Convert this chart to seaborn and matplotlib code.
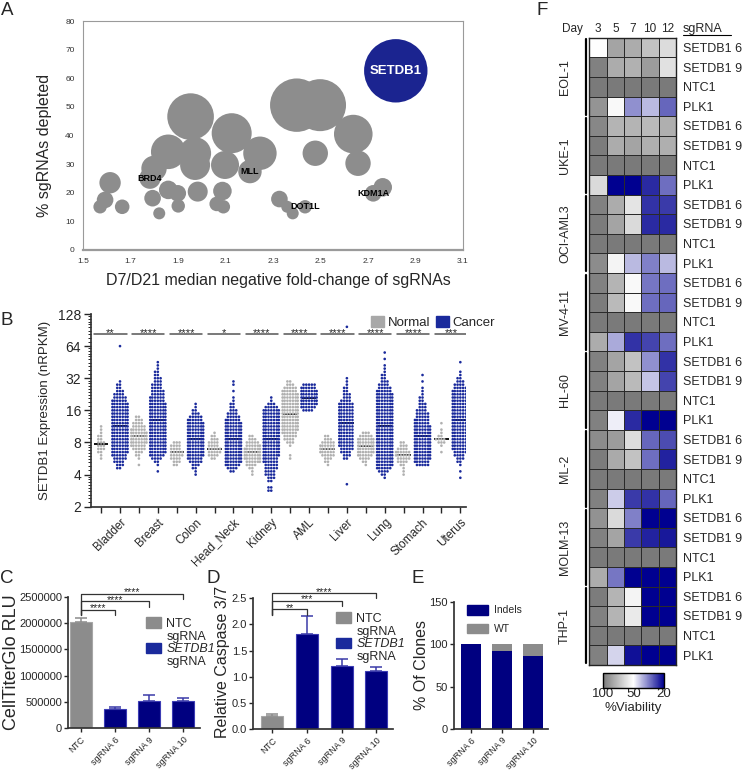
import numpy as np
import pandas as pd
import matplotlib
matplotlib.use("Agg")
import matplotlib.pyplot as plt
import seaborn as sns
from matplotlib.colors import LinearSegmentedColormap, TwoSlopeNorm
from matplotlib.patches import Patch
from matplotlib.ticker import LogLocator, NullFormatter, FuncFormatter

# ---------------- A: screen bubble chart ----------------
gene_x = [2.817, 1.953, 2.400, 2.498, 2.126, 2.638, 1.859, 1.972, 2.245, 2.478, 1.972, 2.098,
          1.799, 1.782, 2.203, 2.658, 1.614, 1.593, 1.572, 1.665, 1.793, 1.821, 1.859, 1.899,
          1.901, 1.983, 2.087, 2.063, 2.091, 2.327, 2.360, 2.383, 2.435, 2.722, 2.762]
gene_y = [62.6, 46.6, 50.6, 50.6, 40.8, 40.5, 34.3, 33.8, 33.8, 33.8, 29.7, 29.7,
          28.5, 25.1, 27.4, 30.3, 23.5, 17.5, 15.1, 15.1, 18.1, 12.8, 21.0, 19.8,
          15.4, 20.4, 20.6, 16.1, 15.1, 17.8, 15.1, 12.8, 15.1, 19.8, 21.9]
gene_area = [1005, 543, 713, 676, 400, 372, 299, 256, 279, 161, 225, 196,
             161, 114, 137, 161, 114, 69, 45, 53, 69, 36, 86, 69,
             45, 100, 86, 53, 45, 69, 36, 36, 45, 69, 86]
gene_name = ['SETDB1'] + [''] * 12 + ['BRD4', 'MLL'] + [''] * 17 + ['DOT1L', 'KDM1A', '']

# ---------------- B: SETDB1 expression (rows of dots, step 0.1 log2) ----------------
tissues = ['Bladder', 'Breast', 'Colon', 'Head_Neck', 'Kidney', 'AML', 'Liver', 'Lung', 'Stomach', 'Uterus']
stars_b = ['**', '****', '****', '*', '****', '****', '****', '****', '****', '***']
normal_lo = [2.5, 2.3, 2.3, 2.5, 2.0, 2.5, 2.3, 2.3, 2.0, 2.7]
cancer_lo = [2.2, 2.1, 2.0, 2.1, 1.5, 4.0, 1.7, 1.9, 2.3, 1.9]

bladder_n = [1, 1, 2, 3, 3, 3, 2, 2, 1, 1, 1]
bladder_c = [2, 3, 4, 5, 6, 7, 7, 7, 7, 7, 7, 7, 7, 7, 7, 7, 7, 7, 7, 7, 7, 6, 5, 4, 3, 2, 2, 1,
             0, 0, 0, 0, 0, 0, 0, 0, 0, 0, 1]
breast_n = [1, 0, 1, 2, 3, 5, 6, 7, 7, 7, 7, 6, 5, 4, 3, 2]
breast_c = [1, 0, 1, 2, 4, 6, 7, 7, 7, 7, 7, 7, 7, 7, 7, 7, 7, 7, 7, 7, 7, 7,
            6, 6, 5, 5, 4, 4, 3, 3, 2, 2, 1, 1, 1]
colon_n = [2, 3, 4, 5, 5, 4, 4, 3]
colon_c = [1, 1, 2, 3, 5, 6, 7, 7, 7, 7, 7, 7, 7, 7, 7, 7, 7, 6, 5, 3, 2, 1, 1]
headneck_n = [2, 4, 5, 5, 4, 4, 3, 2, 1]
headneck_c = [2, 4, 6, 7, 7, 7, 7, 7, 7, 7, 7, 7, 7, 7, 7, 7, 6, 5, 4, 3, 2, 2, 1, 1, 0, 1, 0, 1, 1]
kidney_n = [1, 1, 2, 4, 6, 7, 7, 7, 7, 6, 5, 3, 2]
kidney_c = [2, 2, 0, 2, 3, 4, 4, 5, 5, 6, 6, 7, 7, 7, 7, 7, 7, 7, 7, 7, 7, 7, 7, 7, 7, 7, 5, 3, 1, 1]
aml_n = [1, 1, 0, 0, 1, 3, 4, 5, 6, 7, 7, 7, 7, 7, 7, 7, 7, 7, 7, 7, 7, 6, 5, 3, 2]
aml_c = [4, 6, 7, 7, 7, 7, 7, 6, 5]
liver_n = [1, 2, 3, 5, 6, 6, 6, 5, 3, 2]
liver_c = [1, 0, 0, 0, 0, 0, 0, 0, 2, 3, 4, 5, 6, 6, 6, 6, 6, 6, 6, 6, 6, 6, 6, 6, 6, 6,
           4, 3, 3, 2, 2, 1, 1, 1, 0, 0, 0, 0, 0, 0, 0, 0, 0, 0, 0, 0, 0, 0, 0, 1]
lung_n = [1, 2, 4, 6, 7, 7, 7, 7, 7, 5, 3]
lung_c = [1, 2, 4, 6, 7, 7, 7, 7, 7, 7, 7, 7, 7, 7, 7, 7, 7, 7, 7, 7, 7, 7, 7, 7, 7, 7, 7,
          6, 5, 4, 3, 2, 2, 1, 1, 1, 0, 1, 0, 1]
stomach_n = [1, 1, 1, 2, 4, 5, 6, 6, 4, 3, 2]
stomach_c = [5, 6, 7, 7, 7, 7, 7, 7, 7, 7, 7, 7, 7, 6, 6, 5, 5, 4, 3, 3, 2, 2, 1, 1, 1, 0, 1, 0, 1]
uterus_n = [1, 0, 1, 3, 4, 2, 1, 1, 0, 1]
uterus_c = [1, 0, 1, 0, 1, 2, 3, 4, 5, 6, 7, 7, 7, 7, 7, 7, 7, 7, 7, 7, 7, 7, 7, 7, 7, 7, 7,
            6, 5, 4, 3, 2, 1, 1, 0, 0, 1]

normal_counts = [bladder_n, breast_n, colon_n, headneck_n, kidney_n, aml_n, liver_n, lung_n, stomach_n, uterus_n]
cancer_counts = [bladder_c, breast_c, colon_c, headneck_c, kidney_c, aml_c, liver_c, lung_c, stomach_c, uterus_c]

# ---------------- C / D / E ----------------
bar_groups = ['NTC', 'sgRNA 6', 'sgRNA 9', 'sgRNA 10']
c_mean = [2020000, 370000, 520000, 510000]
c_err = [70000, 40000, 110000, 65000]
c_stars = ['****', '****', '****']
c_brk = [2250000, 2410000, 2560000]

d_mean = [0.25, 1.81, 1.21, 1.11]
d_err = [0.03, 0.35, 0.13, 0.07]
d_stars = ['**', '***', '****']
d_brk = [2.29, 2.45, 2.60]

e_groups = ['sgRNA 6', 'sgRNA 9', 'sgRNA 10']
e_indels = [100, 92, 86]
e_wt = [0, 8, 14]

# ---------------- F: viability heatmap ----------------
days = ['3', '5', '7', '10', '12']
sg_rows = ['SETDB1 6', 'SETDB1 9', 'NTC1', 'PLK1']
cell_lines = ['EOL-1', 'UKE-1', 'OCI-AML3', 'MV-4-11', 'HL-60', 'ML-2', 'MOLM-13', 'THP-1']
eol1 = [[50, 84, 81, 73, 63], [97, 81, 79, 87, 61], [100, 100, 100, 100, 100], [90, 52, 37, 42, 32]]
uke1 = [[95, 78, 78, 76, 80], [99, 81, 84, 80, 80], [100, 100, 100, 100, 100], [64, 20, 20, 25, 33]]
ociaml3 = [[97, 81, 60, 26, 27], [99, 84, 64, 25, 25], [100, 100, 100, 100, 100], [93, 54, 42, 35, 42]]
mv411 = [[97, 78, 52, 34, 33], [99, 76, 52, 33, 32], [100, 100, 100, 100, 100], [81, 40, 26, 28, 33]]
hl60 = [[97, 84, 73, 37, 26], [97, 84, 76, 43, 28], [100, 100, 100, 100, 100], [97, 48, 25, 20, 20]]
ml2 = [[93, 87, 63, 32, 29], [99, 82, 73, 33, 24], [100, 100, 100, 100, 100], [97, 44, 27, 26, 32]]
molm13 = [[91, 64, 35, 20, 20], [97, 84, 27, 24, 23], [100, 100, 100, 100, 100], [81, 34, 20, 20, 20]]
thp1 = [[99, 78, 54, 20, 20], [97, 78, 58, 20, 20], [100, 100, 100, 100, 100], [97, 45, 22, 20, 20]]

GRAY = '#8c8c8c'
NAVY = '#000080'

sns.set_theme(style='ticks')
plt.rcParams['font.family'] = ['Liberation Sans', 'DejaVu Sans']
plt.rcParams['axes.edgecolor'] = '#333333'

W, H = 751, 778
fig = plt.figure(figsize=(W / 100, H / 100), dpi=100)


def box(l, t, r, b):
    return [l / W, 1 - b / H, (r - l) / W, (b - t) / H]


def ftext(x, y, s, **kw):
    fig.text(x / W, 1 - y / H, s, **kw)


for letter, (x, y) in zip('ABCDEF', [(1, 2), (0, 312), (0, 570), (207, 570), (411, 570), (536, 2)]):
    ftext(x, y, letter, fontsize=13.5, va='top', ha='left')

# ======== A ========
axA = fig.add_axes(box(83, 21, 463, 250))
df_a = pd.DataFrame({'x': gene_x, 'y': gene_y, 'area': gene_area, 'name': gene_name})
df_a['kind'] = np.where(df_a['name'] == 'SETDB1', 'hit', 'other')
k = 2.0736
amin, amax = min(gene_area), max(gene_area)
sns.scatterplot(data=df_a, x='x', y='y', size='area', sizes=(amin * k, amax * k), size_norm=(amin, amax),
                hue='kind', palette={'hit': '#1b2490', 'other': '#8d8d8d'}, linewidth=0,
                legend=False, ax=axA)
for _, r in df_a[df_a['name'] != ''].iterrows():
    if r['name'] == 'SETDB1':
        axA.text(r['x'], r['y'], r['name'], color='white', fontsize=9.5, fontweight='bold', ha='center', va='center')
    else:
        axA.text(r['x'], r['y'], r['name'], color='black', fontsize=6.5, fontweight='bold', ha='center', va='center')
axA.set_xlim(1.5, 3.1)
axA.set_ylim(0, 80)
axA.set_xticks(np.arange(1.5, 3.11, 0.2))
axA.set_xticklabels([f'{v:.1f}' for v in np.arange(1.5, 3.11, 0.2)])
axA.set_yticks(np.arange(0, 81, 10))
axA.tick_params(length=0, labelsize=6, colors='#333333', pad=6)
for s in axA.spines.values():
    s.set_color('#9a9a9a')
    s.set_linewidth(0.8)
axA.spines['bottom'].set_linewidth(1.6)
axA.set_xlabel('')
axA.set_ylabel('')
ftext(278, 281, 'D7/D21 median negative fold-change of sgRNAs', fontsize=11.5, ha='center', va='center')
ftext(45, 145, '% sgRNAs depleted', fontsize=11.5, ha='center', va='center', rotation=90)

# ======== B ========
axB = fig.add_axes(box(90.7, 314, 466, 506.7))
rows = []
for t, nc, nlo, cc, clo in zip(tissues, normal_counts, normal_lo, cancer_counts, cancer_lo):
    for grp, counts, lo in (('Normal', nc, nlo), ('Cancer', cc, clo)):
        vals = 2 ** (lo + 0.1 * np.arange(len(counts)))
        for v, c in zip(vals, counts):
            rows += [(f'{t} {grp}', grp, v)] * c
df_b = pd.DataFrame(rows, columns=['pos', 'group', 'value'])
order = [f'{t} {g}' for t in tissues for g in ('Normal', 'Cancer')]
axB.set_yscale('log', base=2)
sns.swarmplot(data=df_b, x='pos', y='value', hue='group', order=order,
              palette={'Normal': '#b0b0b0', 'Cancer': '#1a2a9c'}, size=1.9, linewidth=0,
              legend=False, warn_thresh=1, ax=axB)
sns.boxplot(data=df_b, x='pos', y='value', order=order, width=0.75, showbox=False, showcaps=False,
            showfliers=False, whiskerprops={'linewidth': 0}, medianprops={'color': 'black', 'linewidth': 1.3},
            ax=axB)
axB.set_ylim(2, 128)
axB.set_xlim(-0.55, 19.3)
axB.set_yticks([2, 4, 8, 16, 32, 64, 128])
axB.set_yticklabels(['2', '4', '8', '16', '32', '64', '128'])
axB.yaxis.set_minor_locator(LogLocator(base=2, subs=np.arange(1.1, 2.0, 0.1), numticks=60))
axB.yaxis.set_minor_formatter(NullFormatter())
axB.set_xticks(range(len(order)))
axB.set_xticklabels(['' if o.endswith('Normal') else o.split(' ')[0] for o in order],
                    rotation=45, ha='right', rotation_mode='anchor', fontsize=8.5)
axB.tick_params(axis='y', labelsize=10, length=5, width=1, pad=2)
axB.tick_params(axis='y', which='minor', length=2.5, width=0.7)
axB.tick_params(axis='x', length=4, width=1, pad=3)
sns.despine(ax=axB)
axB.set_xlabel('')
axB.set_ylabel('')
for i, s in enumerate(stars_b):
    axB.plot([2 * i - 0.35, 2 * i + 1.35], [84, 84], color='#555555', lw=1.1)
    axB.text(2 * i + 0.5, 80, s, ha='center', va='baseline', fontsize=8)
ftext(45, 410, 'SETDB1 Expression (nRPKM)', fontsize=9.5, ha='center', va='center', rotation=90)
fig.legend(handles=[Patch(color='#a8a8a8'), Patch(color='#1a2a9c')], labels=['Normal', 'Cancer'],
           loc='upper left', bbox_to_anchor=(364 / W, 1 - 309 / H), ncol=2, frameon=False, fontsize=9.5,
           handlelength=1.0, handleheight=1.0, handletextpad=0.3, columnspacing=0.4, borderpad=0)


# ======== C / D helper ========
def bar_panel(ax, means, errs, stars, brk, leg_low, ymax, yticks, fmt, xlim):
    cols = [GRAY, NAVY, NAVY, NAVY]
    sns.barplot(x=bar_groups, y=means, hue=bar_groups, palette=cols, saturation=1, width=0.64,
                legend=False, ax=ax)
    edges = ['#a6a6a6', '#3c3cb4', '#3c3cb4', '#3c3cb4']
    for p, e in zip(ax.patches, edges):
        p.set_edgecolor(e)
        p.set_linewidth(0.8)
    ecols = ['#8c8c8c', '#3a3aa8', '#3a3aa8', '#3a3aa8']
    for i, (m, e) in enumerate(zip(means, errs)):
        ax.errorbar(i, m, yerr=[[0], [e]], fmt='none', ecolor=ecols[i], elinewidth=1.1, capsize=4, capthick=1.1)
    ax.set_xlim(*xlim)
    ax.set_ylim(0, ymax)
    ax.set_yticks(yticks)
    ax.yaxis.set_major_formatter(FuncFormatter(fmt))
    ax.set_xticks(range(4))
    ax.set_xticklabels(bar_groups, rotation=45, ha='right', rotation_mode='anchor', fontsize=6.5)
    ax.tick_params(axis='y', labelsize=8, length=3, width=1, pad=1.5)
    ax.tick_params(axis='x', length=3, width=1, pad=2)
    sns.despine(ax=ax)
    ax.set_xlabel('')
    ax.set_ylabel('')
    for j, (s, h) in enumerate(zip(stars, brk)):
        drop = (brk[0] - leg_low)
        ax.plot([0, 0, j + 1, j + 1], [leg_low, h, h, h - drop], color='#333333', lw=0.9, clip_on=False)
        ax.text((j + 1) / 2, h - 0.3 * drop, s, ha='center', va='baseline', fontsize=7.5)


def bar_legend(ax, x, y):
    hs = [Patch(color=GRAY), Patch(color='none'), Patch(color='#1a2a9c'), Patch(color='none')]
    leg = ax.legend(handles=hs, labels=['NTC', 'sgRNA', 'SETDB1', 'sgRNA'], loc='upper left',
                    bbox_to_anchor=(x / W, 1 - y / H), bbox_transform=fig.transFigure, frameon=False,
                    fontsize=9, handlelength=1.2, handleheight=0.95, handletextpad=0.4, labelspacing=0.0,
                    borderpad=0)
    leg.get_texts()[2].set_fontstyle('italic')


axC = fig.add_axes(box(68.3, 596.7, 200, 728.3))
bar_panel(axC, c_mean, c_err, c_stars, c_brk, 2150000, 2500000, np.arange(0, 2500001, 500000),
          lambda v, p: f'{int(v)}', (-0.36, 3.49))
bar_legend(axC, 140, 611)
ftext(12, 662, 'CellTiterGlo RLU', fontsize=13, ha='center', va='center', rotation=90)

axD = fig.add_axes(box(253.3, 598.3, 393, 729))
bar_panel(axD, d_mean, d_err, d_stars, d_brk, 2.19, 2.5, np.arange(0, 2.51, 0.5),
          lambda v, p: f'{v:.1f}', (-0.55, 3.48))
bar_legend(axD, 330, 606)
ftext(222, 662, 'Relative Caspase 3/7', fontsize=11.5, ha='center', va='center', rotation=90)

# ======== E ========
axE = fig.add_axes(box(454, 601.7, 548, 729))
e_total = [a + b for a, b in zip(e_indels, e_wt)]
sns.barplot(x=e_groups, y=e_total, color=GRAY, saturation=1, width=0.65, ax=axE)
sns.barplot(x=e_groups, y=e_indels, color=NAVY, saturation=1, width=0.65, ax=axE)
for p in axE.patches:
    p.set_linewidth(0)
axE.set_xlim(-0.55, 2.48)
axE.set_ylim(0, 150)
axE.set_yticks([0, 50, 100, 150])
axE.set_xticks(range(3))
axE.set_xticklabels(e_groups, rotation=45, ha='right', rotation_mode='anchor', fontsize=6.5)
axE.tick_params(axis='y', labelsize=8, length=3, width=1, pad=1.5)
axE.tick_params(axis='x', length=3, width=1, pad=2)
sns.despine(ax=axE)
axE.set_xlabel('')
axE.set_ylabel('')
axE.legend(handles=[Patch(color=NAVY), Patch(color=GRAY)], labels=['Indels', 'WT'], loc='upper left',
           bbox_to_anchor=(462 / W, 1 - 600 / H), bbox_transform=fig.transFigure, frameon=False,
           fontsize=7.5, handlelength=2.0, handleheight=1.0, handletextpad=0.6, labelspacing=0.8, borderpad=0)
ftext(421, 665, '% Of Clones', fontsize=11.5, ha='center', va='center', rotation=90)

# ======== F ========
axF = fig.add_axes(box(589.3, 37.7, 676, 665))
caxF = fig.add_axes(box(602.7, 672.7, 664, 687.7))
mat = np.vstack([eol1, uke1, ociaml3, mv411, hl60, ml2, molm13, thp1])
row_labels = sg_rows * len(cell_lines)
via_cmap = LinearSegmentedColormap.from_list('via', ['#000090', '#ffffff', '#7a7a7a'])
sns.heatmap(mat, cmap=via_cmap, norm=TwoSlopeNorm(vmin=20, vcenter=50, vmax=100), linewidths=0.7,
            linecolor='#2a2a2a', xticklabels=days, yticklabels=row_labels, cbar_ax=caxF,
            cbar_kws={'orientation': 'horizontal'}, ax=axF)
for s in axF.spines.values():
    s.set_visible(True)
    s.set_color('#222222')
    s.set_linewidth(1)
axF.xaxis.tick_top()
axF.yaxis.tick_right()
axF.set_yticklabels(row_labels, rotation=0, fontsize=9)
axF.set_xticklabels(days, rotation=0, fontsize=8.5)
axF.tick_params(axis='y', length=0, pad=5)
axF.tick_params(axis='x', length=0, pad=2)
for g, name in enumerate(cell_lines):
    axF.plot([-0.2, -0.2], [4 * g + 0.08, 4 * g + 3.92], color='black', lw=1.6, clip_on=False)
    axF.text(-1.4, 4 * g + 2, name, rotation=90, ha='center', va='center', fontsize=9)
axF.text(-0.35, -0.42, 'Day', ha='right', va='center', fontsize=8.5)
axF.text(5.4, -0.42, 'sgRNA', ha='left', va='center', fontsize=9)
axF.plot([5.4, 8.2], [-0.12, -0.12], color='black', lw=0.8, clip_on=False)
cb = axF.collections[0].colorbar
cb.set_ticks([100, 50, 20])
cb.set_ticklabels(['100', '50', '20'])
caxF.invert_xaxis()
caxF.tick_params(length=0, labelsize=9.5, pad=0)
cb.outline.set_edgecolor('black')
cb.outline.set_linewidth(1)
ftext(633, 708, '%Viability', fontsize=9.5, ha='center', va='center')

fig.savefig('out.png', dpi=100)
